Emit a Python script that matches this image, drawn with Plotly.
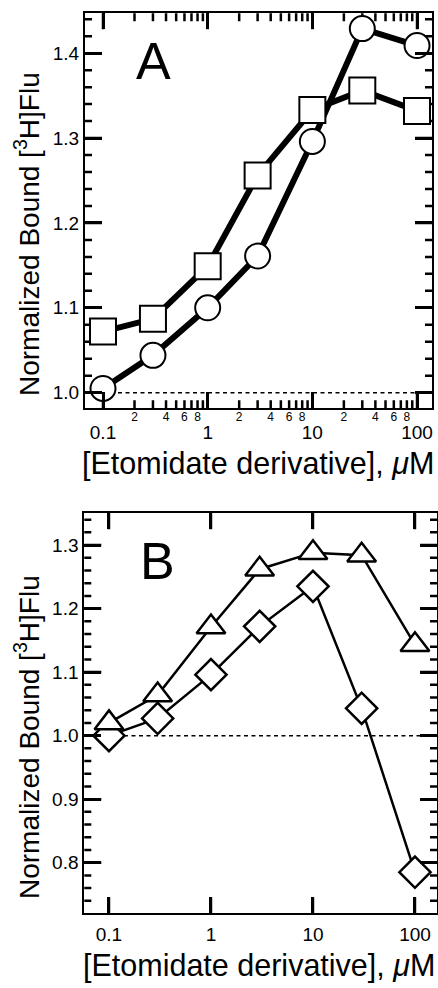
import plotly.graph_objects as go

# ---------------- data ----------------
conc = [0.1, 0.3, 1, 3, 10, 30, 100]
a_circles = [1.005, 1.044, 1.100, 1.161, 1.296, 1.429, 1.409]
a_squares = [1.072, 1.087, 1.149, 1.256, 1.333, 1.356, 1.332]
b_triangles = [1.020, 1.064, 1.171, 1.262, 1.288, 1.284, 1.143]
b_diamonds = [1.000, 1.027, 1.096, 1.172, 1.235, 1.043, 0.785]

baseline = 1.0
baseline_start = 0.1

x_major_vals = [0.1, 1, 10, 100]
x_major_text = ["0.1", "1", "10", "100"]
x_minor_label_vals = [0.2, 0.4, 0.6, 0.8, 2, 4, 6, 8, 20, 40, 60, 80]
x_minor_label_text = ["2", "4", "6", "8", "2", "4", "6", "8", "2", "4", "6", "8"]
a_y_major = [1.0, 1.1, 1.2, 1.3, 1.4]
b_y_major = [0.8, 0.9, 1.0, 1.1, 1.2, 1.3]

a_xrange = [-1.172, 2.143]
a_yrange = [0.9816, 1.447]
b_xrange = [-1.242, 2.216]
b_yrange = [0.7203, 1.350]

panel_labels = ["A", "B"]
y_title = "Normalized Bound [<sup>3</sup>H]Flu"
x_title = "[Etomidate derivative], <i>μ</i>M"

FONT = "Liberation Sans, Arial, Helvetica, sans-serif"
W, H = 438, 988

minor_log_vals = [d * 10 ** e for e in (-1, 0, 1) for d in range(2, 10)]


def minor_lin(lo, hi):
    return [round(k * 0.02, 2) for k in range(0, 80)
            if lo <= k * 0.02 <= hi and k % 5 != 0]


a_y_minor = minor_lin(a_yrange[0], a_yrange[1])
b_y_minor = minor_lin(b_yrange[0], b_yrange[1])

fig = go.Figure()


# inside tick marks drawn as clipped line markers on the frame edges
def add_ticks(xa, ya, xr, yr, xvals, yvals, xlen, ylen):
    x0, x1 = 10 ** xr[0], 10 ** xr[1]
    y0, y1 = yr
    if xvals:
        fig.add_trace(go.Scatter(
            x=list(xvals) * 2, y=[y0] * len(xvals) + [y1] * len(xvals), mode="markers",
            marker=dict(symbol="line-ns", size=2 * xlen / 1.4,
                        line=dict(color="black", width=2.5)),
            xaxis=xa, yaxis=ya, showlegend=False, hoverinfo="skip"))
    if yvals:
        fig.add_trace(go.Scatter(
            x=[x0] * len(yvals) + [x1] * len(yvals), y=list(yvals) * 2, mode="markers",
            marker=dict(symbol="line-ew", size=2 * ylen / 1.4,
                        line=dict(color="black", width=2.5)),
            xaxis=xa, yaxis=ya, showlegend=False, hoverinfo="skip"))


add_ticks("x", "y", a_xrange, a_yrange, x_major_vals, a_y_major, 16, 17)
add_ticks("x", "y", a_xrange, a_yrange, minor_log_vals, a_y_minor, 8, 7)
add_ticks("x2", "y2", b_xrange, b_yrange, x_major_vals, b_y_major, 16, 17)
add_ticks("x2", "y2", b_xrange, b_yrange, [], b_y_minor, 8, 7)

# ---- Panel A ----
fig.add_trace(go.Scatter(x=[baseline_start, 10 ** a_xrange[1]], y=[baseline, baseline],
                         mode="lines", line=dict(color="black", width=1.5, dash="4px,3.5px"),
                         xaxis="x", yaxis="y", showlegend=False, hoverinfo="skip"))
fig.add_trace(go.Scatter(x=conc, y=a_circles, mode="lines+markers",
                         line=dict(color="black", width=6),
                         marker=dict(symbol="circle", size=25, color="white",
                                     line=dict(color="black", width=2)),
                         xaxis="x", yaxis="y", showlegend=False))
fig.add_trace(go.Scatter(x=conc, y=a_squares, mode="lines+markers",
                         line=dict(color="black", width=6),
                         marker=dict(symbol="square", size=26, color="white",
                                     line=dict(color="black", width=2)),
                         xaxis="x", yaxis="y", showlegend=False))

# ---- Panel B ----
fig.add_trace(go.Scatter(x=[baseline_start, 10 ** b_xrange[1]], y=[baseline, baseline],
                         mode="lines", line=dict(color="black", width=1.5, dash="4px,3.5px"),
                         xaxis="x2", yaxis="y2", showlegend=False, hoverinfo="skip"))
fig.add_trace(go.Scatter(x=conc, y=b_diamonds, mode="lines+markers",
                         line=dict(color="black", width=2.5),
                         marker=dict(symbol="diamond", size=24, color="white",
                                     line=dict(color="black", width=2.5)),
                         xaxis="x2", yaxis="y2", showlegend=False))
fig.add_trace(go.Scatter(x=conc, y=b_triangles, mode="lines+markers",
                         line=dict(color="black", width=2.5),
                         marker=dict(symbol="triangle-up", size=25, color="white",
                                     line=dict(color="black", width=2.5)),
                         xaxis="x2", yaxis="y2", showlegend=False))

axis_common = dict(showline=True, linecolor="black", linewidth=2, mirror="ticks",
                   ticks="inside", tickcolor="black", tickwidth=2.5,
                   showgrid=False, zeroline=False,
                   tickfont=dict(family=FONT, size=19, color="black"))

dA_x = [85 / W, 432 / W]
dA_y = [1 - 408.3 / H, 1 - 13.3 / H]
dB_x = [84.3 / W, 437 / W]
dB_y = [1 - 913.3 / H, 1 - 513.3 / H]

fig.update_layout(
    width=W, height=H, margin=dict(l=0, r=0, t=0, b=0),
    paper_bgcolor="white", plot_bgcolor="white",
    font=dict(family=FONT, color="black"),
    xaxis=dict(axis_common, type="log", range=a_xrange, domain=dA_x, anchor="y",
               tickmode="array", tickvals=x_major_vals, ticktext=x_major_text, ticklen=16,
               ticklabelstandoff=6),
    yaxis=dict(axis_common, range=a_yrange, domain=dA_y, anchor="x",
               tickmode="array", tickvals=a_y_major, tickformat=".1f", ticklen=17),
    # small labels 2,4,6,8 under panel A
    xaxis3=dict(type="log", range=a_xrange, overlaying="x", anchor="free",
                position=dA_y[0], side="bottom",
                showline=False, showgrid=False, zeroline=False, ticks="",
                tickmode="array", tickvals=x_minor_label_vals, ticktext=x_minor_label_text,
                tickfont=dict(family=FONT, size=12, color="black"), tickangle=0),
    xaxis2=dict(axis_common, type="log", range=b_xrange, domain=dB_x, anchor="y2",
                tickmode="array", tickvals=x_major_vals, ticktext=x_major_text, ticklen=16,
                ticklabelstandoff=3),
    yaxis2=dict(axis_common, range=b_yrange, domain=dB_y, anchor="x2",
                tickmode="array", tickvals=b_y_major, tickformat=".1f", ticklen=17),
)

# invisible anchor so the label-only overlay axis gets drawn
fig.add_trace(go.Scatter(x=[1], y=[1.2], xaxis="x3", yaxis="y", mode="markers",
                         marker=dict(opacity=0), showlegend=False, hoverinfo="skip"))

annots = [
    dict(text=panel_labels[0], x=153 / W, y=1 - 61 / H, font=dict(size=52)),
    dict(text=panel_labels[1], x=157 / W, y=1 - 561 / H, font=dict(size=52)),
    dict(text=y_title, x=27 / W, y=1 - 234 / H, textangle=-90, font=dict(size=28)),
    dict(text=y_title, x=27 / W, y=1 - 737 / H, textangle=-90, font=dict(size=28)),
    dict(text=x_title, x=258 / W, y=1 - 463 / H, font=dict(size=30.5)),
    dict(text=x_title, x=259 / W, y=1 - 965 / H, font=dict(size=30.5)),
]
for a in annots:
    a.update(xref="paper", yref="paper", showarrow=False, xanchor="center", yanchor="middle")
    a["font"].update(family=FONT, color="black")
    fig.add_annotation(**a)

fig.write_html("out.html")
